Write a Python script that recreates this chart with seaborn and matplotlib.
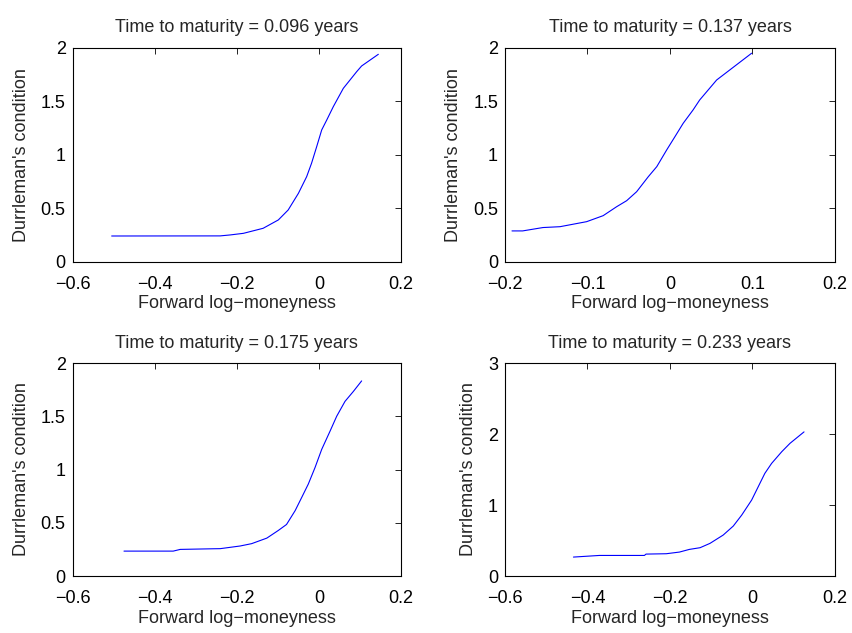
import matplotlib
matplotlib.use("Agg")
import matplotlib.pyplot as plt
import seaborn as sns
import pandas as pd

sns.set_style("white")
plt.rcParams['font.family'] = ['Liberation Sans', 'DejaVu Sans']
plt.rcParams['axes.unicode_minus'] = True

maturities = ["0.096", "0.137", "0.175", "0.233"]

x1 = [-0.505, -0.2406, -0.216, -0.184, -0.136, -0.099, -0.075, -0.050, -0.030, -0.018, -0.0055,
      0.0067, 0.019, 0.035, 0.0594, 0.092, 0.104, 0.1447]
y1 = [0.24, 0.241, 0.25, 0.265, 0.312, 0.39, 0.483, 0.639, 0.794, 0.92, 1.075,
      1.231, 1.324, 1.449, 1.62, 1.776, 1.829, 1.938]

x2 = [-0.1915, -0.1786, -0.154, -0.1333, -0.101, -0.081, -0.0646, -0.0525, -0.0404, -0.0263,
      -0.016, -0.004, 0.006, 0.016, 0.028, 0.036, 0.0566, 0.099]
y2 = [0.2875, 0.2875, 0.319, 0.327, 0.374, 0.43, 0.514, 0.57, 0.654, 0.794,
      0.888, 1.044, 1.168, 1.293, 1.418, 1.511, 1.698, 1.948]

x3 = [-0.475, -0.355, -0.338, -0.257, -0.2406, -0.192, -0.164, -0.127, -0.099, -0.079, -0.058,
      -0.042, -0.026, -0.0096, 0.0067, 0.027, 0.0432, 0.0635, 0.0838, 0.104]
y3 = [0.234, 0.234, 0.25, 0.256, 0.257, 0.282, 0.304, 0.356, 0.428, 0.484, 0.614,
      0.738, 0.863, 1.018, 1.189, 1.36, 1.5, 1.64, 1.733, 1.832]

x4 = [-0.434, -0.371, -0.262, -0.258, -0.209, -0.177, -0.153, -0.127, -0.103, -0.071, -0.0465,
      -0.026, -0.002, 0.014, 0.030, 0.0465, 0.071, 0.091, 0.125]
y4 = [0.267, 0.29, 0.29, 0.309, 0.314, 0.3375, 0.375, 0.399, 0.46, 0.577, 0.704,
      0.859, 1.07, 1.258, 1.446, 1.587, 1.751, 1.869, 2.03]

series = [(x1, y1), (x2, y2), (x3, y3), (x4, y4)]
xlims = [(-0.6, 0.2), (-0.2, 0.2), (-0.6, 0.2), (-0.6, 0.2)]
xticks = [[-0.6, -0.4, -0.2, 0, 0.2], [-0.2, -0.1, 0, 0.1, 0.2],
          [-0.6, -0.4, -0.2, 0, 0.2], [-0.6, -0.4, -0.2, 0, 0.2]]
ylims = [(0, 2), (0, 2), (0, 2), (0, 3)]
yticks = [[0, 0.5, 1, 1.5, 2], [0, 0.5, 1, 1.5, 2], [0, 0.5, 1, 1.5, 2], [0, 1, 2, 3]]

def fmt(v):
    if v == 0:
        return "0"
    s = ("%g" % v)
    return s.replace("-", "\u2212")

FS = 13
fig = plt.figure(figsize=(8.52, 6.33), dpi=100)
positions = [
    [0.0853, 0.5866, 0.3854, 0.3381],
    [0.5927, 0.5866, 0.3873, 0.3381],
    [0.0853, 0.0900, 0.3854, 0.3365],
    [0.5927, 0.0900, 0.3873, 0.3365],
]

for i, ((xs, ys), pos) in enumerate(zip(series, positions)):
    ax = fig.add_axes(pos)
    df = pd.DataFrame({"x": xs, "y": ys})
    sns.lineplot(data=df, x="x", y="y", ax=ax, color="blue", linewidth=0.8,
                 sort=False, estimator=None)
    ax.set_xlim(*xlims[i])
    ax.set_ylim(*ylims[i])
    ax.set_xticks(xticks[i])
    ax.set_xticklabels([fmt(v) for v in xticks[i]])
    ax.set_yticks(yticks[i])
    ax.set_yticklabels([fmt(v) for v in yticks[i]])
    ax.tick_params(direction="in", length=4, width=0.6, top=True, right=True,
                   labelsize=FS, colors="black")
    ax.tick_params(axis="x", pad=10)
    ax.tick_params(axis="y", pad=5)
    for sp in ax.spines.values():
        sp.set_visible(True)
        sp.set_color("black")
        sp.set_linewidth(0.8)
    ax.set_xlabel("Forward log\u2212moneyness", fontsize=FS, labelpad=2)
    ax.set_ylabel("Durrleman's condition", fontsize=FS, labelpad=8)
    ax.set_title("Time to maturity = %s years" % maturities[i], fontsize=FS, pad=11)

fig.savefig("out.png", dpi=100)
